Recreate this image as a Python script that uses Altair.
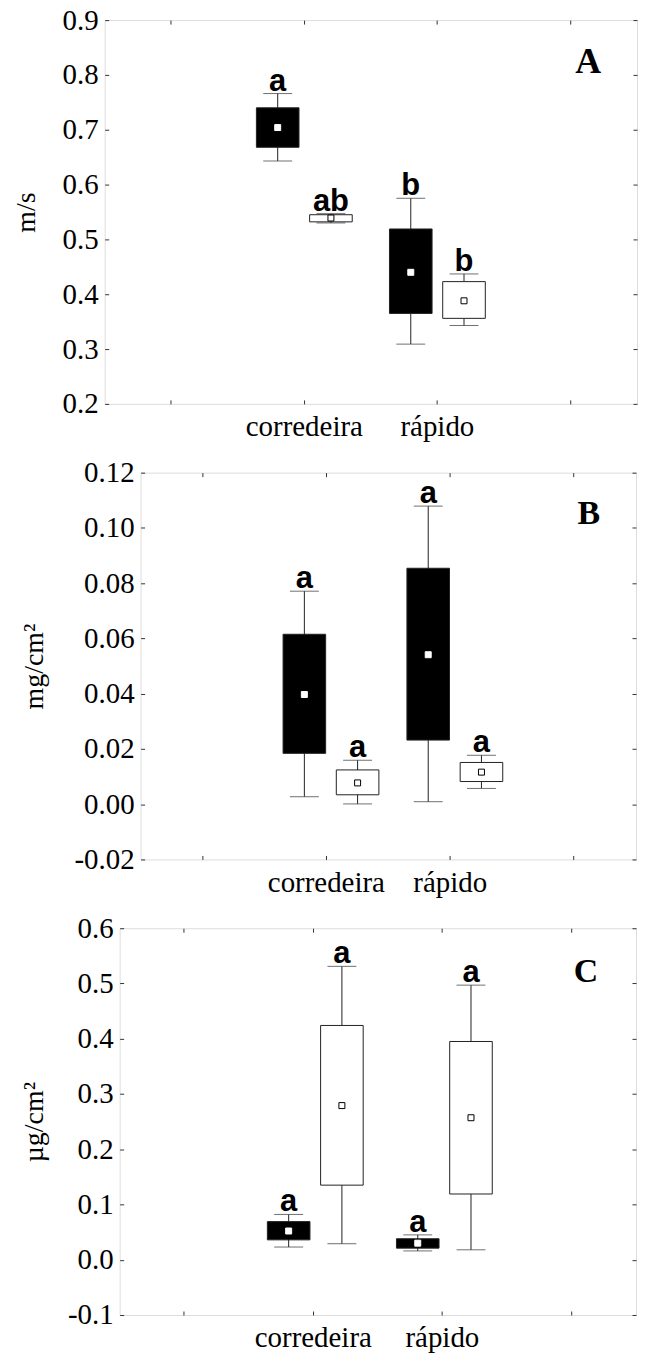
import altair as alt
import pandas as pd

SERIF = "Liberation Serif"
SANS = "Liberation Sans"

# categories
groups = ["corredeira", "corredeira", "rápido", "rápido"]
series = ["black", "white", "black", "white"]
x_domain = ["L", "corredeira", "rápido", "R"]

# Panel A (m/s)
a_wlo = [0.643, 0.530, 0.309, 0.343]
a_q1 = [0.668, 0.532, 0.365, 0.356]
a_mean = [0.704, 0.539, 0.440, 0.388]
a_q3 = [0.740, 0.545, 0.519, 0.423]
a_whi = [0.766, 0.547, 0.575, 0.437]
a_let = ["a", "ab", "b", "b"]
a_ticks = [0.2, 0.3, 0.4, 0.5, 0.6, 0.7, 0.8, 0.9]

# Panel B (mg/cm2)
b_wlo = [0.0027, 0.0001, 0.0009, 0.0057]
b_q1 = [0.0184, 0.0034, 0.0232, 0.0082]
b_mean = [0.0397, 0.0077, 0.0541, 0.0116]
b_q3 = [0.0615, 0.0124, 0.0854, 0.0151]
b_whi = [0.0771, 0.0159, 0.1079, 0.0177]
b_let = ["a", "a", "a", "a"]
b_ticks = [-0.02, 0.0, 0.02, 0.04, 0.06, 0.08, 0.10, 0.12]

# Panel C (ug/cm2)
c_wlo = [0.023, 0.029, 0.016, 0.018]
c_q1 = [0.036, 0.135, 0.021, 0.119]
c_mean = [0.052, 0.279, 0.030, 0.257]
c_q3 = [0.069, 0.424, 0.038, 0.395]
c_whi = [0.082, 0.531, 0.045, 0.497]
c_let = ["a", "a", "a", "a"]
c_ticks = [-0.1, 0.0, 0.1, 0.2, 0.3, 0.4, 0.5, 0.6]

panel_letters = ["A", "B", "C"]


def panel(wlo, q1, mean, q3, whi, let, ticks, fmt, ytitle, width, height,
          tpad, letter, lsize, lright, lbase):
    df = pd.DataFrame(dict(group=groups, series=series, wlo=wlo, q1=q1,
                           mean=mean, q3=q3, whi=whi, let=let))
    xsc = alt.Scale(domain=x_domain, paddingInner=0, paddingOuter=0)
    ysc = alt.Scale(domain=[ticks[0], ticks[-1]], nice=False, zero=False)
    xo = alt.XOffset("series:N", scale=alt.Scale(domain=["black", "white"],
                                                 paddingInner=0.2, paddingOuter=0.35))
    lab = "replace(format(datum.value, '%s'), '\u2212', '-')" % fmt
    yax = alt.Axis(values=ticks, labelExpr=lab, orient="left", offset=-4,
                   tickSize=4, domain=False, grid=False, labelPadding=6.5,
                   labelFont=SERIF, labelFontSize=29, labelColor="black",
                   tickColor="#333", title=ytitle, titleFont=SERIF,
                   titleFontSize=28, titleFontWeight="normal", titleColor="black",
                   titlePadding=tpad)
    xax = alt.Axis(orient="bottom", offset=-4, tickSize=4, domain=False, grid=False,
                   labelAngle=0, labelPadding=9, labelFont=SERIF, labelFontSize=29,
                   labelColor="black", tickColor="#333", title=None,
                   labelExpr="(datum.value == 'L' || datum.value == 'R') ? '' : datum.value")
    yax2 = alt.Axis(values=ticks, orient="right", offset=-4, tickSize=4, domain=False,
                    grid=False, labels=False, tickColor="#333", title=None)
    xax2 = alt.Axis(orient="top", offset=-4, tickSize=4, domain=False, grid=False,
                    labels=False, tickColor="#333", title=None)

    base = alt.Chart(df)
    x0 = alt.X("group:N", scale=xsc, axis=None)

    whisk = base.mark_rule(color="#222", strokeWidth=1).encode(
        x=alt.X("group:N", scale=xsc, axis=xax), xOffset=xo,
        y=alt.Y("wlo:Q", scale=ysc, axis=yax), y2="whi:Q")
    cap_hi = base.mark_tick(orient="horizontal", size=29, thickness=1, color="#333").encode(
        x=x0, xOffset=xo, y=alt.Y("whi:Q", scale=ysc, axis=None))
    cap_lo = base.mark_tick(orient="horizontal", size=29, thickness=1, color="#333").encode(
        x=x0, xOffset=xo, y=alt.Y("wlo:Q", scale=ysc, axis=None))
    box = base.mark_bar(stroke="#222", strokeWidth=1).encode(
        x=x0, xOffset=xo, y=alt.Y("q1:Q", scale=ysc, axis=None), y2="q3:Q",
        fill=alt.Fill("series:N", scale=alt.Scale(domain=["black", "white"],
                                                  range=["black", "white"]), legend=None))
    mean_pt = base.mark_square(size=36, filled=True, strokeWidth=1, opacity=1).encode(
        x=x0, xOffset=xo, y=alt.Y("mean:Q", scale=ysc, axis=None),
        fill=alt.value("white"),
        stroke=alt.Stroke("series:N", scale=alt.Scale(domain=["black", "white"],
                                                      range=["white", "black"]), legend=None))
    letters = base.mark_text(font=SANS, fontWeight="bold", fontSize=31, color="black",
                             baseline="alphabetic", dy=-3).encode(
        x=x0, xOffset=xo, y=alt.Y("whi:Q", scale=ysc, axis=None), text="let:N")
    frame_axes = base.mark_point(opacity=0, size=0).encode(
        x=alt.X("group:N", scale=xsc, axis=xax2),
        y=alt.Y("whi:Q", scale=ysc, axis=yax2))
    tag = alt.Chart(pd.DataFrame({"t": [letter]})).mark_text(
        font=SERIF, fontSize=lsize, fontWeight="bold", color="black",
        align="right", baseline="alphabetic").encode(
        x=alt.value(width - lright), y=alt.value(lbase), text="t:N")

    ch = alt.layer(whisk, cap_hi, cap_lo, box, mean_pt, letters, frame_axes, tag).resolve_axis(
        x="independent", y="independent").properties(width=width, height=height)
    return ch


def spacer(w):
    return alt.Chart(pd.DataFrame({"v": [0]})).mark_point(opacity=0, size=0).encode(
        x=alt.value(0), y=alt.value(0)).properties(
        width=w, height=1, view=alt.ViewBackground(stroke="transparent"))


pA = panel(a_wlo, a_q1, a_mean, a_q3, a_whi, a_let, a_ticks, ".1f", "m/s",
           534, 385, 22, panel_letters[0], 36, 36, 53)
pB = panel(b_wlo, b_q1, b_mean, b_q3, b_whi, b_let, b_ticks, ".2f", "mg/cm²",
           497, 388, 25, panel_letters[1], 34, 36, 52)
pC = panel(c_wlo, c_q1, c_mean, c_q3, c_whi, c_let, c_ticks, ".1f", "µg/cm²",
           518, 388, 18.5, panel_letters[2], 34, 38, 54)

rowA = alt.hconcat(spacer(1), pA, spacing=0)
rowB = alt.hconcat(spacer(10), pB, spacing=0)
rowC = alt.hconcat(spacer(10), pC, spacing=0)

chart = alt.vconcat(rowA, rowB, rowC, spacing=15).properties(
    padding={"left": 0, "top": -5, "right": 2, "bottom": 0}
).configure_view(stroke="#333", strokeWidth=1).configure(background="white")

chart.save("out.html", embed_options={"renderer": "svg", "actions": False})
